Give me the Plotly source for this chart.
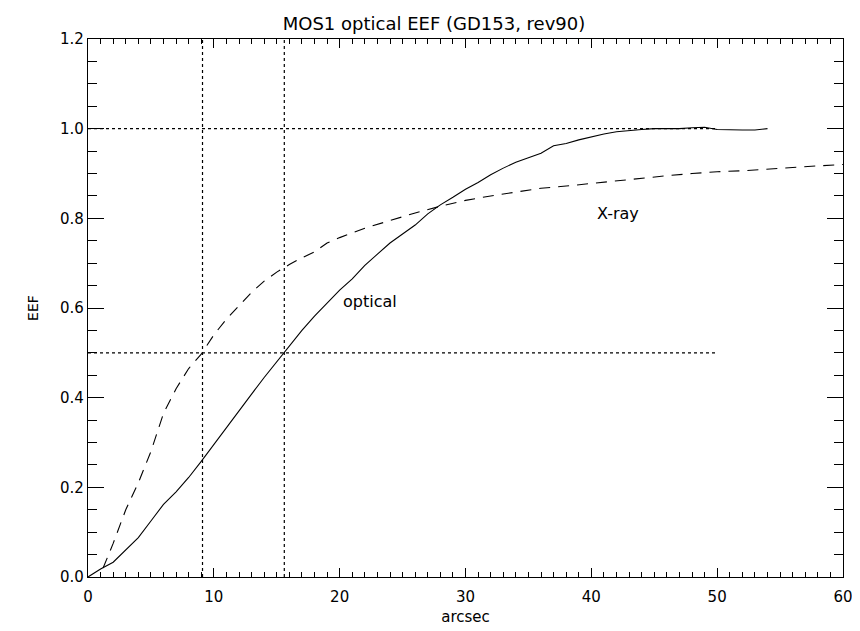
import plotly.graph_objects as go

title_text = "MOS1 optical EEF (GD153, rev90)"
x_label = "arcsec"
y_label = "EEF"

optical_x = [0, 1, 2, 3, 4, 5, 6, 7, 8, 9, 10, 11, 12, 13, 14, 15, 16, 17, 18, 19,
             20, 21, 22, 23, 24, 25, 26, 27, 28, 29, 30, 31, 32, 33, 34, 35, 36, 37,
             38, 39, 40, 41, 42, 43, 44, 45, 46, 47, 48, 49, 50, 51, 52, 53, 54]
optical_y = [0.0, 0.018, 0.033, 0.06, 0.088, 0.125, 0.162, 0.19, 0.222, 0.258, 0.296,
             0.334, 0.37, 0.408, 0.445, 0.48, 0.515, 0.55, 0.582, 0.612, 0.64, 0.665,
             0.695, 0.72, 0.745, 0.765, 0.785, 0.81, 0.83, 0.847, 0.865, 0.88, 0.897,
             0.912, 0.925, 0.935, 0.945, 0.962, 0.967, 0.975, 0.982, 0.988, 0.993,
             0.996, 0.998, 1.0, 1.0, 1.0, 1.002, 1.003, 0.998, 0.997, 0.997, 0.997, 1.0]

xray_x = [1.2, 1.5, 2, 3, 4, 5, 6, 7, 8, 9, 10, 11, 12, 13, 14, 15, 16, 17, 18, 19, 20,
          22, 24, 26, 28, 30, 32, 34, 36, 38, 40, 42, 44, 46, 48, 50, 52, 54, 56, 58, 60]
xray_y = [0.02, 0.04, 0.075, 0.15, 0.21, 0.28, 0.365, 0.42, 0.465, 0.497, 0.54, 0.575,
          0.605, 0.635, 0.66, 0.68, 0.697, 0.712, 0.725, 0.745, 0.757, 0.778, 0.795,
          0.812, 0.827, 0.84, 0.85, 0.858, 0.867, 0.872, 0.878, 0.884, 0.89, 0.895,
          0.9, 0.904, 0.906, 0.91, 0.913, 0.917, 0.92]

# reference lines
vline_x = [9.1, 15.6]
hline_y = [0.5, 1.0]
hline_xend = 50

x_range = [0, 60]
y_range = [0, 1.2]
x_major, x_minor = 10, 1
y_major, y_minor = 0.2, 0.05

font_family = "DejaVu Sans"

fig = go.Figure()

for vx in vline_x:
    fig.add_trace(go.Scatter(x=[vx, vx], y=y_range, mode="lines",
                             line=dict(color="black", width=1.2, dash="dot"),
                             showlegend=False, hoverinfo="skip"))
for hy in hline_y:
    fig.add_trace(go.Scatter(x=[0, hline_xend], y=[hy, hy], mode="lines",
                             line=dict(color="black", width=1.2, dash="dot"),
                             showlegend=False, hoverinfo="skip"))

fig.add_trace(go.Scatter(x=optical_x, y=optical_y, mode="lines",
                         line=dict(color="black", width=1.1),
                         name="optical", showlegend=False))
fig.add_trace(go.Scatter(x=xray_x, y=xray_y, mode="lines",
                         line=dict(color="black", width=1.1, dash="11px,8px"),
                         name="X-ray", showlegend=False))
# empty trace so the overlay axes (used for the opposite-side ticks) are drawn
fig.add_trace(go.Scatter(x=[], y=[], xaxis="x2", yaxis="y2", showlegend=False,
                         hoverinfo="skip"))

fig.add_annotation(x=22.4, y=0.615, text="optical", showarrow=False,
                   font=dict(size=16, color="black", family=font_family))
fig.add_annotation(x=42.1, y=0.81, text="X-ray", showarrow=False,
                   font=dict(size=16, color="black", family=font_family))

# page body has an 8px default margin, so the figure is shifted by 8px
fig.update_layout(
    width=852, height=623,
    paper_bgcolor="white", plot_bgcolor="white",
    margin=dict(l=80, r=17, t=31, b=54),
    font=dict(family=font_family, color="black", size=15),
    title=dict(text=title_text, x=0.5, xanchor="center", y=0.975, yanchor="middle",
               font=dict(size=18, family=font_family, color="black")),
    showlegend=False,
)

common_x = dict(range=x_range, tickmode="linear", tick0=0, dtick=x_major,
                ticks="inside", ticklen=9, tickwidth=1.2, tickcolor="black",
                showline=True, linecolor="black", linewidth=1.3, mirror="ticks",
                showgrid=False, zeroline=False, automargin=False,
                minor=dict(ticks="inside", ticklen=5, tickwidth=1, tickcolor="black",
                           dtick=x_minor, showgrid=False))
common_y = dict(range=y_range, tickmode="linear", tick0=0, dtick=y_major,
                ticks="inside", ticklen=16, tickwidth=1.2, tickcolor="black",
                showline=True, linecolor="black", linewidth=1.3, mirror="ticks",
                showgrid=False, zeroline=False, automargin=False,
                minor=dict(ticks="inside", ticklen=9, tickwidth=1, tickcolor="black",
                           dtick=y_minor, showgrid=False))

fig.update_layout(
    xaxis=dict(**common_x, tickfont=dict(size=15), ticklabelstandoff=6,
               title=dict(text=x_label, standoff=6, font=dict(size=15))),
    yaxis=dict(**common_y, tickformat=".1f", tickfont=dict(size=15),
               title=dict(text=y_label, standoff=18, font=dict(size=14))),
    xaxis2=dict(**common_x, overlaying="x", side="top", anchor="y2",
                showticklabels=False),
    yaxis2=dict(**common_y, overlaying="y", side="right", anchor="x2",
                showticklabels=False),
)

fig.write_html("out.html")
